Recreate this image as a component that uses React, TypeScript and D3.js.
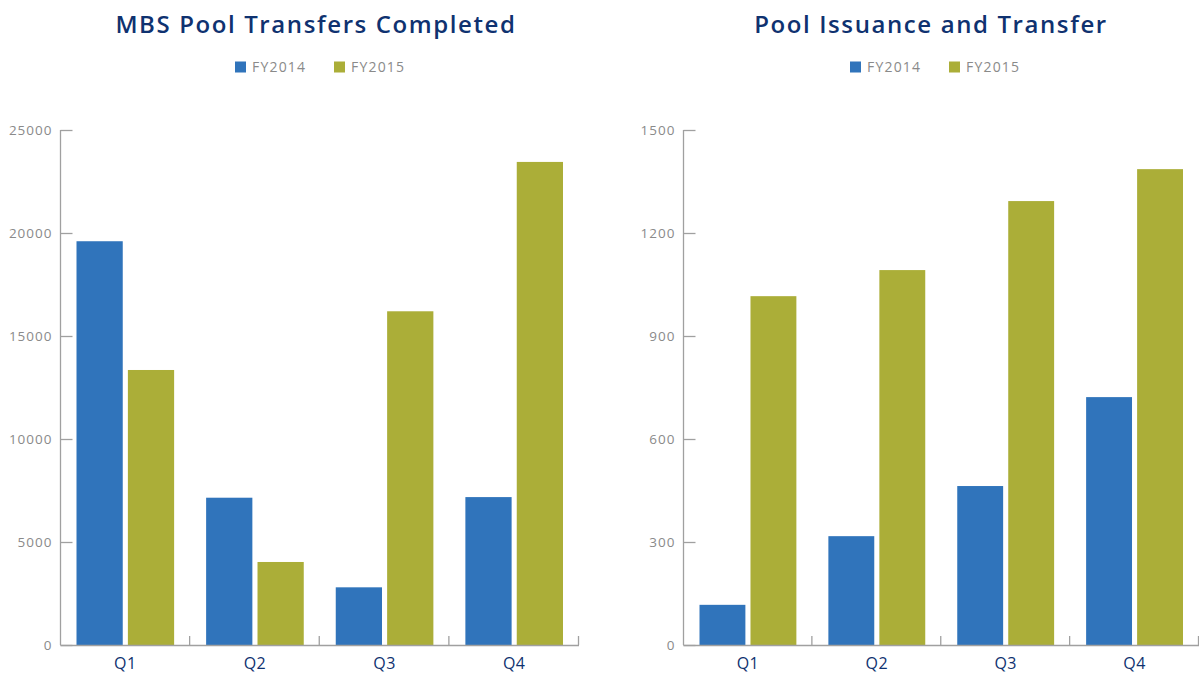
import React, { useEffect, useRef } from "react";
import * as d3 from "d3";

const quarters = ["Q1", "Q2", "Q3", "Q4"];
const seriesNames = ["FY2014", "FY2015"];
const transfers2014 = [19600, 7150, 2800, 7180];
const transfers2015 = [13350, 4030, 16200, 23450];
const issuance2014 = [117, 317, 463, 722];
const issuance2015 = [1016, 1092, 1293, 1386];
const transferTicks = [0, 5000, 10000, 15000, 20000, 25000];
const issuanceTicks = [0, 300, 600, 900, 1200, 1500];

const colors = ["#3074bb", "#abae38"];
const navy = "#0f3270";
const gray = "#8a8a8a";
const font = "'Open Sans', sans-serif";

type Panel = {
  title: string;
  values: number[][];
  ticks: number[];
  left: number;
  right: number;
  center: number;
};

const App = () => {
  const svgRef = useRef<SVGSVGElement>(null);

  useEffect(() => {
    const width = 1199;
    const height = 675;
    const top = 130;
    const bottom = 645;

    const svg = d3.select(svgRef.current);
    svg.selectAll("*").remove();
    svg.attr("width", width).attr("height", height);

    const panels: Panel[] = [
      { title: "MBS Pool Transfers Completed", values: [transfers2014, transfers2015], ticks: transferTicks, left: 60.5, right: 579, center: 316 },
      { title: "Pool Issuance and Transfer", values: [issuance2014, issuance2015], ticks: issuanceTicks, left: 683.5, right: 1199, center: 931 },
    ];

    panels.forEach((p) => {
      const g = svg.append("g");

      // title
      g.append("text")
        .attr("x", p.center)
        .attr("y", 33)
        .attr("text-anchor", "middle")
        .style("font-family", font)
        .style("font-size", "24px")
        .style("font-weight", 600)
        .style("letter-spacing", "1.6px")
        .style("fill", navy)
        .text(p.title);

      // legend
      const legend = g.append("g").attr("transform", `translate(${p.center - 81}, 67)`);
      seriesNames.forEach((name, i) => {
        const item = legend.append("g").attr("transform", `translate(${i * 99}, 0)`);
        item.append("rect").attr("x", 0).attr("y", -5.5).attr("width", 11).attr("height", 11).attr("fill", colors[i]);
        item.append("text")
          .attr("x", 17)
          .attr("y", 5)
          .style("font-family", font)
          .style("font-size", "14px")
          .style("letter-spacing", "1.2px")
          .style("fill", gray)
          .text(name);
      });

      const y = d3
        .scaleLinear()
        .domain([0, p.ticks[p.ticks.length - 1]])
        .range([bottom, top]);

      const x0 = d3.scaleBand<string>().domain(quarters).range([p.left, p.right]).padding(0);
      const x1 = d3
        .scaleBand<string>()
        .domain(seriesNames)
        .range([16, x0.bandwidth() - 16])
        .paddingInner(0.1);

      // bars
      quarters.forEach((q, qi) => {
        seriesNames.forEach((s, si) => {
          const v = p.values[si][qi];
          g.append("rect")
            .attr("x", (x0(q) as number) + (x1(s) as number))
            .attr("y", y(v))
            .attr("width", x1.bandwidth())
            .attr("height", bottom - y(v))
            .attr("fill", colors[si]);
        });
      });

      // y axis
      g.append("line")
        .attr("x1", p.left).attr("x2", p.left)
        .attr("y1", top).attr("y2", bottom)
        .attr("stroke", "#a0a0a0").attr("stroke-width", 1.3);

      p.ticks.forEach((t) => {
        g.append("line")
          .attr("x1", p.left).attr("x2", p.left + 12)
          .attr("y1", Math.round(y(t)) + 0.5).attr("y2", Math.round(y(t)) + 0.5)
          .attr("stroke", "#a0a0a0").attr("stroke-width", 1.3);
        g.append("text")
          .attr("x", p.left - 8)
          .attr("y", y(t) + 5)
          .attr("text-anchor", "end")
          .style("font-family", font)
          .style("font-size", "13.5px")
          .style("letter-spacing", "1px")
          .style("fill", gray)
          .text(t);
      });

      // x axis
      g.append("line")
        .attr("x1", p.left).attr("x2", p.right)
        .attr("y1", bottom + 0.5).attr("y2", bottom + 0.5)
        .attr("stroke", "#a0a0a0").attr("stroke-width", 1.3);

      quarters.forEach((q) => {
        const xe = (x0(q) as number) + x0.bandwidth();
        g.append("line")
          .attr("x1", xe - 0.5).attr("x2", xe - 0.5)
          .attr("y1", bottom).attr("y2", bottom - 9)
          .attr("stroke", "#a0a0a0").attr("stroke-width", 1.3);
        g.append("text")
          .attr("x", (x0(q) as number) + x0.bandwidth() / 2)
          .attr("y", 669)
          .attr("text-anchor", "middle")
          .style("font-family", font)
          .style("font-size", "16px")
          .style("letter-spacing", "0.5px")
          .style("fill", navy)
          .text(q);
      });
    });
  }, []);

  return <svg ref={svgRef} style={{ position: "absolute", left: 0, top: 0 }}></svg>;
};

export default App;
